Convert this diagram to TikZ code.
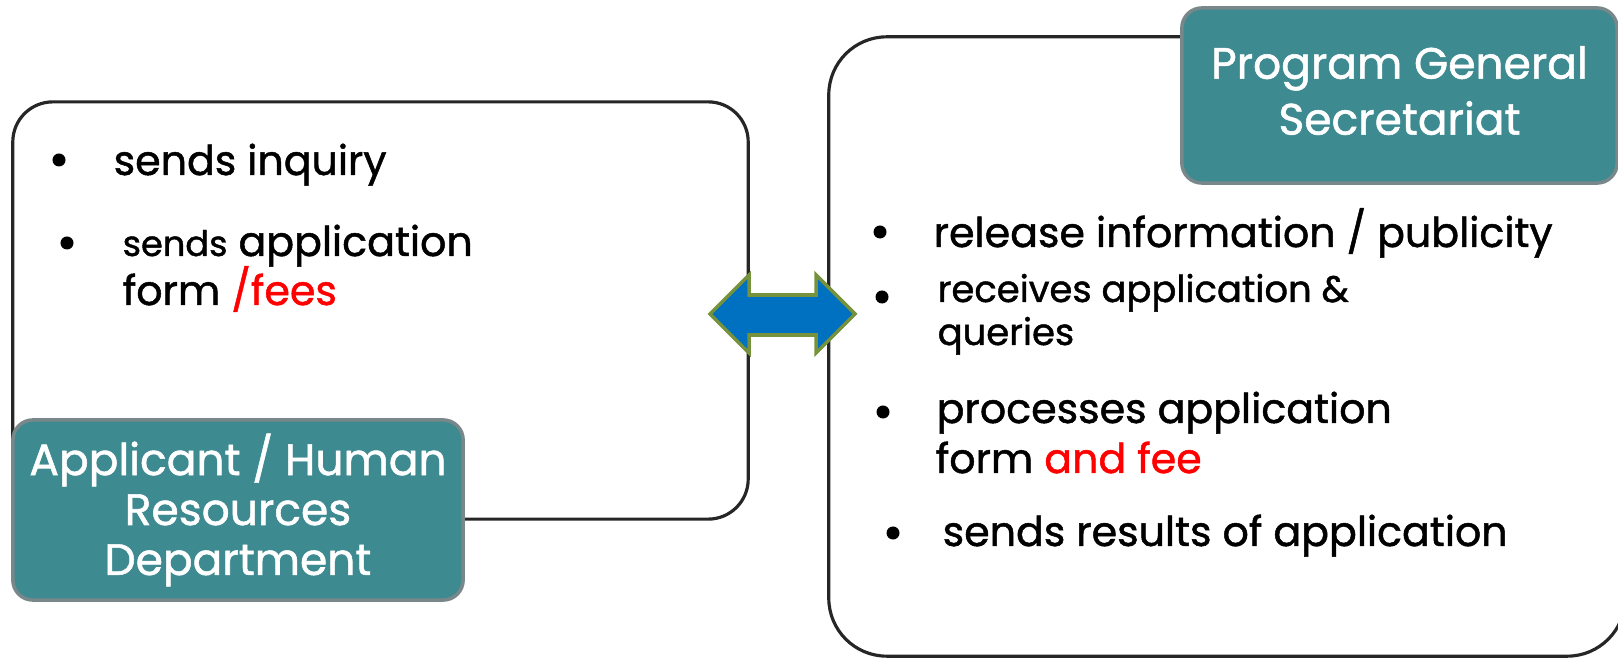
\documentclass[tikz,border=0pt]{standalone}
\usepackage{fontspec}
\setmainfont[FakeBold=1.5,UprightFeatures={FakeBold=1.2}]{Poppins}
\usetikzlibrary{positioning}
\definecolor{tagteal}{RGB}{62,138,145}
\definecolor{taggray}{RGB}{120,135,138}
\definecolor{framegray}{RGB}{38,38,38}
\definecolor{linkblue}{RGB}{0,112,192}
\definecolor{linkgreen}{RGB}{118,146,60}
\definecolor{feered}{RGB}{255,0,0}
\tikzset{
  panel/.style={draw=framegray, line width=0.9pt, fill=white},
  tag/.style={draw=taggray, line width=1pt, fill=tagteal, rounded corners=0.2cm,
    text=white, align=center, inner sep=0pt},
  item/.style={anchor=base west, inner sep=0pt, font=\fontsize{11.7}{14}\selectfont},
}
\begin{document}
\begin{tikzpicture}[x=0.01cm, y=-0.01cm]
%
% page frame, pixels of the reference
\clip (0,0) rectangle (1618,658);
\fill[white] (0,0) rectangle (1618,658);
%
% the two panels
\node[panel, rounded corners=0.4cm, minimum width=7.35cm, minimum height=4.17cm] (leftpanel) at (380.5,310.5) {};
\node[panel, rounded corners=0.58cm, minimum width=7.96cm, minimum height=6.19cm] (rightpanel) at (1227,346.5) {};
%
% double arrow between them
\draw[fill=linkblue, draw=linkgreen, line width=1pt, line join=miter]
  (710,314) -- (749,275) -- (749,295) -- (816,295) -- (816,275) -- (855,314)
  -- (816,353) -- (816,335) -- (749,335) -- (749,353) -- cycle;
%
% title tags
\node[tag, minimum width=4.5cm, minimum height=1.8cm, font=\fontsize{12.5}{14.2}\selectfont] (applicant) at (238,510) {Applicant / Human\\Resources\\Department};
\node[tag, minimum width=4.35cm, minimum height=1.75cm, font=\fontsize{12.5}{15.9}\selectfont] (secretariat) at (1399.5,95.5) {\begin{tabular}{@{}c@{}}Program General\\Secretariat\end{tabular}};
%
% bullets
\foreach \bx/\by in {59/160, 67/243, 880/232, 882/297, 883/412, 893/533}
  \fill (\bx,\by) circle (0.065cm);
%
% left items
\node[item] (inquiry) at (113,175) {sends inquiry};
\node[item] (sendform) at (122,256) {{\fontsize{10}{12}\selectfont sends} application};
\node[item] (fees) at (122,305) {form \textcolor{feered}{/fees}};
%
% right items
\node[item] (release) at (933,247) {release information / publicity};
\node[item, font=\fontsize{10.5}{12}\selectfont] (receive) at (937,302) {receives application \&};
\node[item, font=\fontsize{10.5}{12}\selectfont] (queries) at (937,345) {queries};
\node[item] (process) at (936,423) {processes application};
\node[item] (feeform) at (935,473) {form \textcolor{feered}{and fee}};
\node[item] (results) at (942,546) {sends results of application};
%
\end{tikzpicture}
\end{document}
